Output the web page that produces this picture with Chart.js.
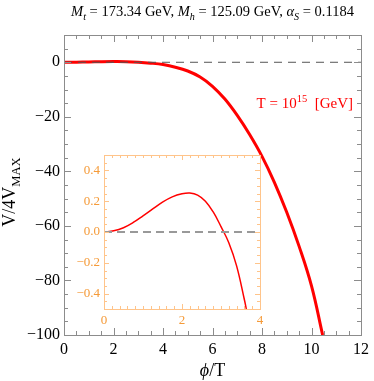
<!DOCTYPE html>
<html>

<head>
    <title>Potential</title>
    <meta charset="UTF-8">
    <script src="https://cdn.jsdelivr.net/npm/chart.js@4.4.0/dist/chart.umd.min.js"></script>
    <style>
        body { margin: 0; background: #fff; }
        #wrap { position: relative; width: 374px; height: 381px; }
        #inset { position: absolute; left: 60px; top: 140px; }
    </style>
</head>

<body>
    <div id="wrap">
        <canvas id="mainChart" width="374" height="381"></canvas>
        <canvas id="inset" width="210" height="195"></canvas>
    </div>
    <script>
        // main curve, V/4Vmax against phi/T
        const mainX = [0, 0.5, 1, 1.5, 2, 2.5, 3, 3.5, 4, 4.5, 5, 5.5, 6, 6.5, 7, 7.5, 8, 8.5, 9, 9.5, 10, 10.45];
        const mainY = [0, 0.03, 0.1, 0.2, 0.25, 0.22, 0.03, -0.32, -0.85, -1.8, -3.2, -5.4, -8.8, -13.5, -19.5, -26.5, -34.5, -44, -55, -67.5, -82, -100];
        const mainXTicks = [0, 2, 4, 6, 8, 10, 12];
        const mainYTicks = [-100, -80, -60, -40, -20, 0];

        // zoom on the barrier
        const insetX = [0, 0.25, 0.5, 0.75, 1, 1.25, 1.5, 1.75, 2, 2.2, 2.4, 2.6, 2.8, 3.0, 3.2, 3.4, 3.6, 3.65];
        const insetY = [0, 0.008, 0.028, 0.062, 0.105, 0.15, 0.194, 0.228, 0.248, 0.253, 0.24, 0.2, 0.13, 0.035, -0.07, -0.22, -0.44, -0.5];
        const insetXTicks = [0, 2, 4];
        const insetYTicks = [-0.4, -0.2, 0, 0.2, 0.4];

        const SERIF = '"Liberation Serif", "Times New Roman", serif';
        const minus = s => String(s).replace('-', '\u2212');

        function drawRich(ctx, runs, x, y, size, align, color) {
            const fontOf = r => (r.italic ? 'italic ' : '') + ((r.sub || r.sup) ? size * 0.7 : size) + 'px ' + SERIF;
            let total = 0;
            runs.forEach(r => { ctx.font = fontOf(r); r.w = ctx.measureText(r.t).width; total += r.w; });
            let cx = align === 'center' ? x - total / 2 : (align === 'right' ? x - total : x);
            ctx.fillStyle = color;
            ctx.textAlign = 'left';
            ctx.textBaseline = 'alphabetic';
            runs.forEach(r => {
                ctx.font = fontOf(r);
                let dy = r.sub ? size * 0.25 : (r.sup ? -size * 0.4 : 0);
                ctx.fillText(r.t, cx, y + dy);
                cx += r.w;
            });
        }

        function framePlugin(opt) {
            return {
                id: 'frame',
                afterDatasetsDraw(chart) {
                    const { ctx, chartArea: a, scales: { x, y } } = chart;
                    ctx.save();
                    ctx.strokeStyle = opt.color;
                    ctx.lineWidth = 1;
                    ctx.beginPath();
                    const nx = Math.round((x.max - x.min) / opt.xMinor);
                    for (let i = 0; i <= nx; i++) {
                        const v = x.min + i * opt.xMinor;
                        const len = (Math.abs(v / opt.xMajor - Math.round(v / opt.xMajor)) < 1e-6) ? opt.major : opt.minor;
                        const px = Math.round(x.getPixelForValue(v)) + 0.5;
                        ctx.moveTo(px, a.bottom); ctx.lineTo(px, a.bottom - len);
                        ctx.moveTo(px, a.top); ctx.lineTo(px, a.top + len);
                    }
                    const ny = Math.round((y.max - y.min) / opt.yMinor);
                    for (let i = 0; i <= ny; i++) {
                        const v = y.min + i * opt.yMinor;
                        const len = (Math.abs(v / opt.yMajor - Math.round(v / opt.yMajor)) < 1e-6) ? opt.major : opt.minor;
                        const py = Math.round(y.getPixelForValue(v)) + 0.5;
                        ctx.moveTo(a.left, py); ctx.lineTo(a.left + len, py);
                        ctx.moveTo(a.right, py); ctx.lineTo(a.right - len, py);
                    }
                    ctx.stroke();
                    ctx.strokeRect(Math.round(a.left) + 0.5, Math.round(a.top) + 0.5, Math.round(a.right - a.left), Math.round(a.bottom - a.top));
                    ctx.restore();
                }
            };
        }

        const labelsPlugin = {
            id: 'labels',
            afterDraw(chart) {
                const ctx = chart.ctx;
                const a = chart.chartArea;
                ctx.save();
                drawRich(ctx, [
                    { t: 'M', italic: true }, { t: 't', italic: true, sub: true }, { t: ' = 173.34 GeV, ' },
                    { t: 'M', italic: true }, { t: 'h', italic: true, sub: true }, { t: ' = 125.09 GeV, ' },
                    { t: '\u03b1', italic: true }, { t: 'S', italic: true, sub: true }, { t: ' = 0.1184' }
                ], (a.left + a.right) / 2, 16, 14.5, 'center', '#000');
                drawRich(ctx, [{ t: '\u03d5', italic: true }, { t: '/T' }], (a.left + a.right) / 2, 376, 18, 'center', '#000');
                drawRich(ctx, [{ t: 'T = 10' }, { t: '15', sup: true }, { t: '  [GeV]' }], 353, 108, 15, 'right', '#ff0000');
                ctx.translate(9, 192);
                ctx.rotate(-Math.PI / 2);
                drawRich(ctx, [{ t: 'V/4V' }, { t: 'MAX', sub: true }], 0, 6, 18, 'center', '#000');
                ctx.restore();
            }
        };

        new Chart(document.getElementById('mainChart'), {
            type: 'line',
            data: {
                datasets: [
                    {
                        data: [{ x: 0, y: 0 }, { x: 12, y: 0 }],
                        borderColor: '#555',
                        borderWidth: 1,
                        borderDash: [8, 6],
                        pointRadius: 0,
                        order: 0
                    },
                    {
                        data: mainX.map((v, i) => ({ x: v, y: mainY[i] })),
                        borderColor: '#ff0000',
                        borderWidth: 3,
                        pointRadius: 0,
                        tension: 0.4,
                        order: 1
                    }
                ]
            },
            options: {
                responsive: false,
                animation: false,
                layout: { padding: { top: 35, right: 8, left: 0, bottom: 0 } },
                plugins: { legend: { display: false }, tooltip: { enabled: false } },
                scales: {
                    x: {
                        type: 'linear', min: 0, max: 12,
                        afterBuildTicks: s => { s.ticks = mainXTicks.map(v => ({ value: v })); },
                        afterFit: s => { s.height = 46; },
                        grid: { display: false, drawTicks: false },
                        border: { display: false },
                        ticks: { padding: 5, color: '#000', font: { family: SERIF, size: 16 }, maxRotation: 0, callback: v => minus(v) }
                    },
                    y: {
                        min: -100, max: 10,
                        afterBuildTicks: s => { s.ticks = mainYTicks.map(v => ({ value: v })); },
                        afterFit: s => { s.width = 64; },
                        grid: { display: false, drawTicks: false },
                        border: { display: false },
                        ticks: { padding: 4, color: '#000', font: { family: SERIF, size: 16 }, callback: v => minus(v) }
                    }
                }
            },
            plugins: [framePlugin({ color: '#8c8c8c', xMinor: 0.5, xMajor: 2, yMinor: 5, yMajor: 20, major: 7, minor: 4 }), labelsPlugin]
        });

        new Chart(document.getElementById('inset'), {
            type: 'line',
            data: {
                datasets: [
                    {
                        data: [{ x: 0, y: 0 }, { x: 4, y: 0 }],
                        borderColor: '#999',
                        borderWidth: 2,
                        borderDash: [8, 5],
                        pointRadius: 0,
                        order: 0
                    },
                    {
                        data: insetX.map((v, i) => ({ x: v, y: insetY[i] })),
                        borderColor: '#ff0000',
                        borderWidth: 1.5,
                        pointRadius: 0,
                        tension: 0.4,
                        order: 1
                    }
                ]
            },
            options: {
                responsive: false,
                animation: false,
                layout: { padding: { top: 15, right: 10, left: 0, bottom: 0 } },
                plugins: { legend: { display: false }, tooltip: { enabled: false } },
                scales: {
                    x: {
                        type: 'linear', min: 0, max: 4,
                        afterBuildTicks: s => { s.ticks = insetXTicks.map(v => ({ value: v })); },
                        afterFit: s => { s.height = 26; },
                        grid: { display: false, drawTicks: false },
                        border: { display: false },
                        ticks: { padding: 4, color: '#f59a38', font: { family: SERIF, size: 13 }, maxRotation: 0, callback: v => minus(v) }
                    },
                    y: {
                        min: -0.5, max: 0.5,
                        afterBuildTicks: s => { s.ticks = insetYTicks.map(v => ({ value: v })); },
                        afterFit: s => { s.width = 44; },
                        grid: { display: false, drawTicks: false },
                        border: { display: false },
                        ticks: { padding: 4, color: '#f59a38', font: { family: SERIF, size: 13 }, callback: v => minus(Number(v).toFixed(1)) }
                    }
                }
            },
            plugins: [framePlugin({ color: '#ffc48a', xMinor: 0.2, xMajor: 2, yMinor: 0.05, yMajor: 0.2, major: 5, minor: 3 })]
        });
    </script>

</body>

</html>
